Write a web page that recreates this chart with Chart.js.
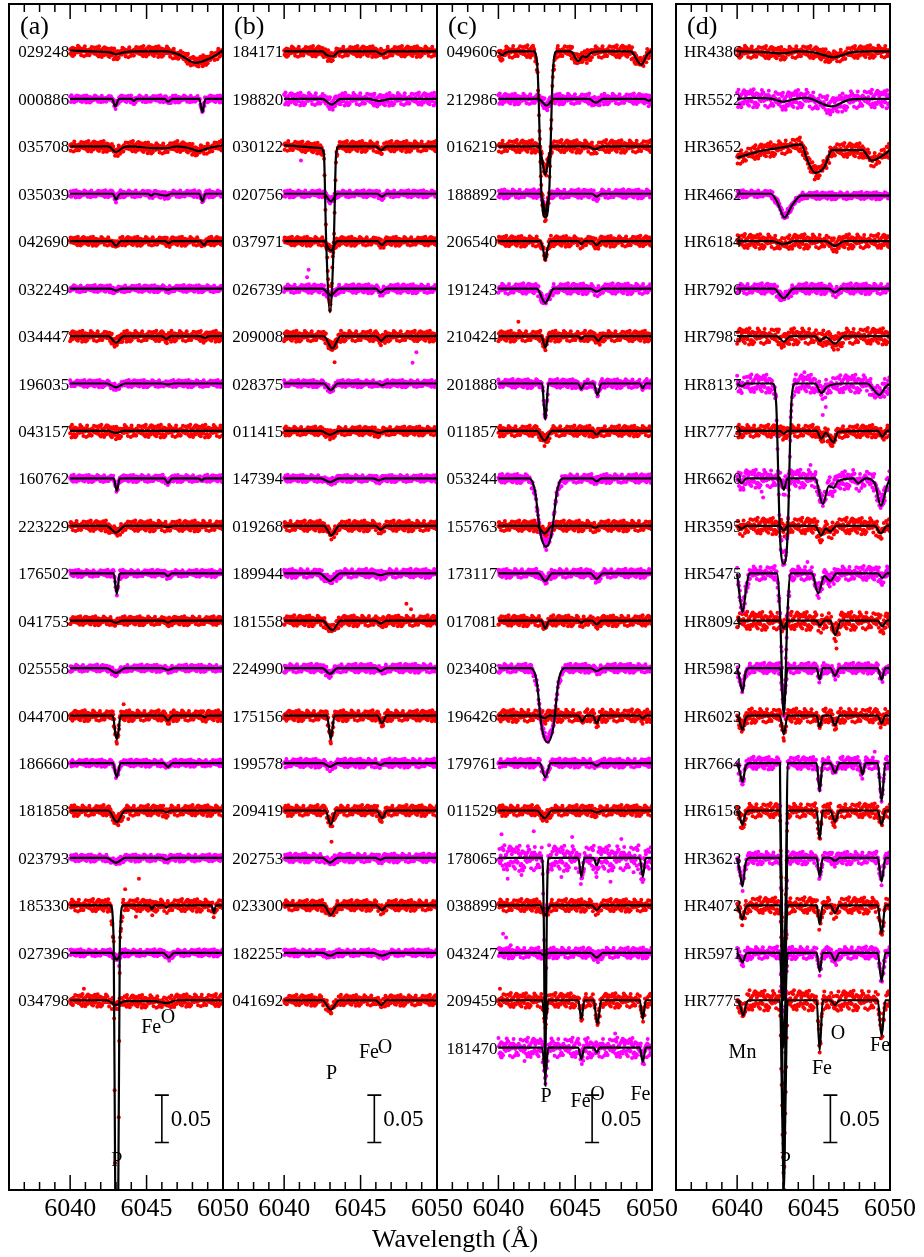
<!DOCTYPE html>
<html>
<head>
<meta charset="utf-8">
<script src="https://cdn.jsdelivr.net/npm/chart.js@4.4.0/dist/chart.umd.min.js"></script>
<style>
  body { margin: 0; background: #fff; width: 924px; height: 1257px; position: relative; overflow: hidden; }
  canvas { position: absolute; left: 0; top: 0; }
  #xtitle { position: absolute; left: 372px; top: 1226px; font: 26px "Liberation Serif", serif; line-height: 26px; color: #000; white-space: nowrap; }
</style>
</head>
<body>
<canvas id="panelA" width="924" height="1257"></canvas>
<canvas id="panelB" width="924" height="1257"></canvas>
<canvas id="panelC" width="924" height="1257"></canvas>
<canvas id="panelD" width="924" height="1257"></canvas>
<div id="xtitle">Wavelength (Å)</div>
<script>
// spectra are stacked 0.05 apart, top one at 0
const STEP = 0.05;
const RED = '#ff0000';
const MAGENTA = '#ff00ff';

// star names, top to bottom
const namesA = ['029248','000886','035708','035039','042690','032249','034447','196035','043157','160762','223229',
  '176502','041753','025558','044700','186660','181858','023793','185330','027396','034798'];
const namesB = ['184171','198820','030122','020756','037971','026739','209008','028375','011415','147394','019268',
  '189944','181558','224990','175156','199578','209419','202753','023300','182255','041692'];
const namesC = ['049606','212986','016219','188892','206540','191243','210424','201888','011857','053244','155763',
  '173117','017081','023408','196426','179761','011529','178065','038899','043247','209459','181470'];
const namesD = ['HR4386','HR5522','HR3652','HR4662','HR6184','HR7926','HR7985','HR8137','HR7773','HR6620','HR3595',
  'HR5475','HR8094','HR5982','HR6023','HR7664','HR6158','HR3623','HR4072','HR5971','HR7775'];

// model spectra: wavelength, flux offset in units of 0.001
const knotsA = [
  [6040,1, 6041.5,0, 6042.6,-1, 6043.0,-3, 6043.5,-1, 6044.3,0, 6046.3,0, 6047.2,-4, 6048.2,-12, 6049.2,-7, 6050,1],
  [6040,0, 6042.75,0, 6042.95,-8, 6043.2,0, 6044,0, 6044.15,-2, 6044.35,0, 6046.2,0, 6046.4,-3, 6046.7,0, 6048.45,0, 6048.65,-14, 6048.85,0, 6050,0],
  [6040,0, 6042.5,0, 6043.0,-6, 6043.5,-1, 6044,0, 6045.5,-2, 6046.3,-2, 6047,0, 6047.8,-2, 6048.4,-5, 6049,-2, 6050,1],
  [6040,0, 6042.8,0, 6043.0,-6, 6043.25,0, 6045.1,0, 6045.3,-2, 6045.5,0, 6046.3,-2, 6046.6,0, 6048.45,0, 6048.65,-8, 6048.85,0, 6050,0],
  [6040,0, 6042.7,0, 6043.0,-5, 6043.3,0, 6046.2,0, 6046.45,-2, 6046.7,0, 6048.5,0, 6048.75,-4, 6049,0, 6050,0],
  [6040,0, 6042.6,0, 6043.0,-2, 6043.4,0, 6046.1,0, 6046.4,-1, 6046.7,0, 6050,0],
  [6040,0, 6042.5,0, 6043.0,-7, 6043.5,0, 6046.0,0, 6046.3,-3, 6046.6,0, 6048.5,0, 6048.8,-2, 6049.1,0, 6050,0],
  [6040,0, 6042.4,0, 6043.0,-4, 6043.6,0, 6046,0, 6046.4,-1, 6046.8,0, 6050,0],
  [6040,0, 6042.5,0, 6043.0,-2, 6043.5,0, 6050,0],
  [6040,0, 6042.85,0, 6043.05,-13, 6043.25,0, 6046.15,0, 6046.4,-5, 6046.65,0, 6048.4,0, 6048.6,-2, 6048.8,0, 6050,0],
  [6040,0, 6042.4,0, 6043.0,-7, 6043.6,0, 6046,0, 6046.4,-1, 6046.8,0, 6050,0],
  [6040,0, 6042.85,0, 6043.05,-22, 6043.25,0, 6046.15,0, 6046.4,-3, 6046.65,0, 6050,0],
  [6040,0, 6042.6,0, 6043.0,-2, 6043.4,0, 6046.1,0, 6046.4,-2, 6046.7,0, 6050,0],
  [6040,0, 6042.4,0, 6043.0,-5, 6043.6,0, 6046,0, 6046.4,-2, 6046.8,0, 6050,0],
  [6040,0, 6042.8,0, 6042.95,-18, 6043.05,-25, 6043.15,-18, 6043.3,0, 6046.1,0, 6046.4,-5, 6046.7,0, 6048.6,0, 6048.8,-2, 6049,0, 6050,0],
  [6040,0, 6042.8,0, 6043.05,-15, 6043.3,0, 6046.1,0, 6046.4,-4, 6046.7,0, 6050,0],
  [6040,0, 6042.5,0, 6043.05,-12, 6043.6,0, 6046,0, 6046.3,-2, 6046.6,0, 6050,0],
  [6040,0, 6042.4,0, 6043.0,-5, 6043.6,0, 6046,0, 6046.3,-2, 6046.6,0, 6050,0],
  [6040,0, 6042.65,0, 6042.85,-40, 6042.95,-300, 6043.05,-330, 6043.15,-300, 6043.25,-40, 6043.45,0, 6045.2,0, 6045.35,-4, 6045.5,0, 6046.1,0, 6046.3,-2, 6046.5,0, 6049.25,0, 6049.4,-8, 6049.55,0, 6050,0],
  [6040,0, 6042.7,0, 6043.05,-7, 6043.4,0, 6046.1,0, 6046.45,-5, 6046.8,0, 6050,0],
  [6040,0, 6042.4,0, 6043.0,-5, 6043.6,-1, 6045.5,-1, 6046.3,-3, 6047,0, 6050,0]
];
const knotsB = [
  [6040,0, 6042.5,0, 6042.8,-4, 6043.2,-5, 6043.6,0, 6046,0, 6046.4,-3, 6046.8,0, 6050,0],
  [6040,0, 6042.5,0, 6043.1,-6, 6043.7,0, 6045.5,0, 6046.2,-2, 6047,0, 6050,0],
  [6040,1, 6042.4,-2, 6042.6,-8, 6042.75,-100, 6043.0,-175, 6043.25,-100, 6043.4,-8, 6043.6,0, 6046.0,0, 6046.35,-4, 6046.7,0, 6050,0],
  [6040,0, 6042.6,0, 6043.05,-8, 6043.5,0, 6046.1,0, 6046.4,-3, 6046.7,0, 6050,0],
  [6040,0, 6042.6,0, 6043.05,-10, 6043.5,0, 6046.1,0, 6046.4,-4, 6046.7,0, 6050,0],
  [6040,0, 6042.5,0, 6043.05,-7, 6043.6,0, 6046.0,0, 6046.3,-4, 6046.7,0, 6050,0],
  [6040,0, 6042.6,0, 6043.15,-13, 6043.7,0, 6046.0,0, 6046.35,-5, 6046.7,0, 6050,0],
  [6040,0, 6042.6,0, 6043.05,-7, 6043.5,0, 6046.1,0, 6046.4,-2, 6046.7,0, 6050,0],
  [6040,0, 6042.4,0, 6043.0,-4, 6043.6,0, 6045.7,0, 6046.2,-2, 6046.7,0, 6050,0],
  [6040,0, 6042.4,0, 6043.0,-4, 6043.6,0, 6045.8,0, 6046.2,-2, 6046.6,0, 6050,0],
  [6040,0, 6042.6,0, 6043.1,-10, 6043.6,0, 6046.0,0, 6046.3,-4, 6046.7,0, 6050,0],
  [6040,0, 6042.3,0, 6043.0,-8, 6043.7,0, 6045.8,0, 6046.3,-2, 6046.8,0, 6050,0],
  [6040,0, 6042.5,0, 6043.15,-10, 6043.7,0, 6046.0,0, 6046.3,-3, 6046.7,0, 6050,0],
  [6040,0, 6042.5,0, 6043.0,-6, 6043.5,0, 6046,0, 6046.3,-3, 6046.7,0, 6050,0],
  [6040,0, 6042.8,0, 6042.95,-15, 6043.05,-25, 6043.15,-15, 6043.3,0, 6046.1,0, 6046.4,-8, 6046.7,0, 6050,0],
  [6040,0, 6042.5,0, 6043.0,-4, 6043.5,0, 6046,0, 6046.3,-2, 6046.6,0, 6050,0],
  [6040,0, 6042.7,0, 6043.05,-15, 6043.4,0, 6046.05,0, 6046.4,-8, 6046.75,0, 6050,0],
  [6040,0, 6042.5,0, 6043.0,-5, 6043.5,0, 6046,0, 6046.3,-2, 6046.6,0, 6050,0],
  [6040,0, 6042.6,0, 6043.05,-10, 6043.5,0, 6046.05,0, 6046.4,-5, 6046.75,0, 6050,0],
  [6040,0, 6042.5,0, 6043.0,-3, 6043.5,0, 6045.8,0, 6046.4,-3, 6047,0, 6050,0],
  [6040,0, 6042.5,0, 6043.05,-10, 6043.6,0, 6046.0,0, 6046.35,-5, 6046.7,0, 6050,0]
];
const knotsC = [
  [6040,-1, 6040.25,-4, 6040.5,-1, 6041,0, 6042.3,0, 6042.55,-20, 6042.8,-150, 6043.05,-175, 6043.3,-150, 6043.55,-20, 6043.8,0, 6044.7,0, 6045.2,-10, 6045.5,-5, 6045.7,-6, 6046.1,-1, 6047,0, 6048.6,0, 6049.3,-14, 6049.7,-3, 6050,1],
  [6040,0, 6042.6,0, 6043.15,-7, 6043.6,0, 6045.9,0, 6046.35,-4, 6046.8,0, 6049.5,0, 6049.8,-2, 6050,0],
  [6040,0, 6042.6,0, 6042.8,-10, 6043.05,-30, 6043.3,-10, 6043.5,0, 6045.8,0, 6046.3,-3, 6046.8,0, 6050,0],
  [6040,0, 6042.7,0, 6042.9,-8, 6043.05,-22, 6043.2,-8, 6043.4,0, 6046.1,0, 6046.4,-3, 6046.7,0, 6050,0],
  [6040,0, 6042.7,0, 6042.9,-8, 6043.05,-20, 6043.2,-8, 6043.4,0, 6045.2,0, 6045.4,-3, 6045.6,0, 6046.1,0, 6046.4,-4, 6046.7,0, 6050,0],
  [6040,0, 6042.5,0, 6043.05,-15, 6043.6,0, 6046,0, 6046.4,-3, 6046.8,0, 6050,0],
  [6040,0, 6042.8,0, 6043.05,-12, 6043.3,0, 6045.2,0, 6045.4,-3, 6045.6,0, 6046.2,0, 6046.5,-5, 6046.8,0, 6050,0],
  [6040,0, 6042.85,0, 6042.95,-20, 6043.05,-38, 6043.15,-20, 6043.25,0, 6045.2,0, 6045.4,-6, 6045.6,0, 6046.2,0, 6046.45,-12, 6046.7,0, 6049.2,0, 6049.4,-5, 6049.6,0, 6050,0],
  [6040,0, 6042.5,0, 6043.0,-10, 6043.5,0, 6046.1,0, 6046.4,-4, 6046.7,0, 6050,0],
  [6040,0, 6042.0,0, 6042.4,-15, 6042.7,-55, 6043.1,-72, 6043.5,-55, 6043.8,-15, 6044.2,0, 6046.1,0, 6046.4,-3, 6046.7,0, 6050,0],
  [6040,0, 6042.5,0, 6043.0,-8, 6043.5,0, 6046.0,0, 6046.3,-2, 6046.6,0, 6050,0],
  [6040,0, 6042.6,0, 6043.05,-8, 6043.5,0, 6046.0,0, 6046.4,-6, 6046.8,0, 6050,0],
  [6040,0, 6042.8,0, 6043.05,-8, 6043.3,0, 6045.2,0, 6045.4,-2, 6045.6,0, 6046.1,0, 6046.4,-4, 6046.7,0, 6050,0],
  [6040,0, 6042.1,0, 6042.5,-15, 6042.8,-60, 6043.2,-78, 6043.6,-60, 6043.9,-15, 6044.3,0, 6046.0,0, 6046.4,-3, 6046.8,0, 6050,0],
  [6040,0, 6042.7,0, 6043.0,-3, 6043.3,0, 6045.2,0, 6045.45,-6, 6045.7,0, 6046.15,0, 6046.4,-8, 6046.65,0, 6049.2,0, 6049.4,-3, 6049.6,0, 6050,0],
  [6040,0, 6042.7,0, 6043.05,-15, 6043.4,0, 6046.1,0, 6046.4,-3, 6046.7,0, 6050,0],
  [6040,0, 6042.5,0, 6043.0,-8, 6043.5,0, 6046.0,0, 6046.4,-2, 6046.8,0, 6050,0],
  [6040,0, 6042.85,0, 6042.95,-60, 6043.05,-240, 6043.15,-60, 6043.25,0, 6045.2,0, 6045.4,-20, 6045.6,0, 6046.2,0, 6046.4,-8, 6046.6,0, 6049.2,0, 6049.4,-20, 6049.6,0, 6050,0],
  [6040,0, 6042.7,0, 6043.05,-10, 6043.4,0, 6046.1,0, 6046.4,-5, 6046.7,0, 6050,0],
  [6040,0, 6042.7,0, 6043.0,-3, 6043.3,0, 6046.0,0, 6046.4,-5, 6046.8,0, 6050,0],
  [6040,0, 6042.85,0, 6043.05,-25, 6043.25,0, 6045.2,0, 6045.4,-20, 6045.6,0, 6046.2,0, 6046.45,-25, 6046.7,0, 6049.2,0, 6049.4,-20, 6049.6,0, 6050,0],
  [6040,0, 6042.85,0, 6043.05,-30, 6043.25,0, 6045.2,0, 6045.4,-12, 6045.6,0, 6046.2,0, 6046.4,-5, 6046.6,0, 6049.2,0, 6049.4,-15, 6049.6,0, 6050,0]
];
const knotsD = [
  [6040,0, 6042,-1, 6043,-2, 6044,0, 6045,-1, 6046.3,-6, 6047.5,-1, 6048.5,0, 6050,0],
  [6040,0, 6041,1, 6042.3,0, 6043,-3, 6043.8,0, 6044.5,1, 6046.2,-8, 6047.3,-1, 6048.3,0, 6050,0],
  [6040,-12, 6041.5,-5, 6043,-1, 6044.2,2, 6044.6,-15, 6045.1,-28, 6045.7,-22, 6046.2,-4, 6048.2,-4, 6048.8,-15, 6049.5,-10, 6050,-4],
  [6040,0, 6042.2,0, 6042.6,-8, 6043.1,-25, 6043.6,-12, 6044.2,-2, 6050,-2],
  [6040,0, 6042.3,0, 6043,-3, 6043.8,0, 6045.8,0, 6046.4,-5, 6047,0, 6050,0],
  [6040,0, 6042.4,0, 6043.05,-10, 6043.7,0, 6046,0, 6046.4,-4, 6046.8,0, 6050,0],
  [6040,0, 6042.6,0, 6043.05,-6, 6043.5,0, 6045.1,0, 6045.4,-5, 6045.8,-1, 6046.4,-8, 6047,0, 6050,0],
  [6040,0, 6040.3,-3, 6040.6,0, 6042.3,0, 6042.55,-20, 6042.8,-160, 6043.05,-190, 6043.3,-160, 6043.55,-20, 6043.8,0, 6045.1,0, 6045.5,-10, 6045.9,-3, 6047,0, 6048.5,0, 6049.3,-12, 6049.7,-4, 6050,0],
  [6040,0, 6042.8,0, 6043.05,-3, 6043.3,0, 6045.2,0, 6045.5,-8, 6045.8,-2, 6046.3,-12, 6046.6,-1, 6049.2,0, 6049.5,-6, 6049.8,0, 6050,0],
  [6040,0, 6040.3,-5, 6040.6,0, 6042.8,0, 6043.05,-12, 6043.3,0, 6045.1,0, 6045.6,-27, 6046.0,-8, 6046.3,-10, 6046.6,-3, 6047.6,0, 6047.9,-5, 6048.4,0, 6049.0,-5, 6049.4,-29, 6049.8,-8, 6050,0],
  [6040,0, 6040.3,-3, 6040.6,0, 6042.8,0, 6043.05,-5, 6043.3,0, 6045.1,0, 6045.5,-10, 6045.8,-3, 6046.1,-6, 6046.5,0, 6049.0,0, 6049.4,-8, 6049.8,0, 6050,0],
  [6040,0, 6040.1,-15, 6040.35,-41, 6040.6,-15, 6040.8,0, 6042.6,0, 6042.8,-40, 6043.05,-150, 6043.3,-40, 6043.5,0, 6044.9,0, 6045.3,-21, 6045.7,-3, 6046.1,-8, 6046.5,0, 6049.2,0, 6049.5,-5, 6049.8,0, 6050,0],
  [6040,0, 6042.8,0, 6043.05,-8, 6043.3,0, 6045.2,0, 6045.4,-5, 6045.7,0, 6046.1,0, 6046.4,-15, 6046.8,0, 6049.2,0, 6049.5,-6, 6049.8,0, 6050,0],
  [6040,0, 6040.15,-10, 6040.35,-25, 6040.55,-5, 6040.8,0, 6042.8,0, 6043.05,-40, 6043.3,0, 6045.2,0, 6045.4,-12, 6045.6,0, 6046.1,0, 6046.4,-8, 6046.7,0, 6049.2,0, 6049.45,-12, 6049.7,0, 6050,0],
  [6040,0, 6040.15,-6, 6040.35,-15, 6040.55,-3, 6040.8,0, 6042.8,0, 6043.05,-20, 6043.3,0, 6045.2,0, 6045.4,-12, 6045.6,0, 6046.1,0, 6046.4,-10, 6046.7,0, 6049.2,0, 6049.45,-8, 6049.7,0, 6050,0],
  [6040,0, 6040.15,-8, 6040.35,-20, 6040.55,-4, 6040.8,0, 6042.8,0, 6042.95,-300, 6043.05,-430, 6043.15,-300, 6043.3,0, 6045.2,0, 6045.4,-30, 6045.6,0, 6046.1,0, 6046.4,-10, 6046.7,0, 6048.0,0, 6048.2,-12, 6048.4,0, 6049.2,0, 6049.45,-40, 6049.7,0, 6050,0],
  [6040,0, 6040.15,-6, 6040.35,-15, 6040.55,-3, 6040.8,0, 6042.8,0, 6042.95,-120, 6043.05,-200, 6043.15,-120, 6043.3,0, 6045.2,0, 6045.4,-30, 6045.6,0, 6046.1,0, 6046.4,-12, 6046.7,0, 6049.2,0, 6049.45,-15, 6049.7,0, 6050,0],
  [6040,0, 6040.15,-12, 6040.35,-30, 6040.55,-6, 6040.8,0, 6042.8,0, 6042.95,-90, 6043.05,-150, 6043.15,-90, 6043.3,0, 6045.2,0, 6045.4,-20, 6045.6,0, 6046.1,0, 6046.4,-3, 6046.7,0, 6049.2,0, 6049.45,-25, 6049.7,0, 6050,0],
  [6040,0, 6040.15,-6, 6040.35,-15, 6040.55,-3, 6040.8,0, 6042.8,0, 6042.95,-60, 6043.05,-100, 6043.15,-60, 6043.3,0, 6045.2,0, 6045.4,-20, 6045.6,0, 6046.1,0, 6046.4,-8, 6046.7,0, 6049.2,0, 6049.45,-30, 6049.7,0, 6050,0],
  [6040,0, 6040.15,-4, 6040.35,-10, 6040.55,-2, 6040.8,0, 6042.8,0, 6042.95,-60, 6043.05,-100, 6043.15,-60, 6043.3,0, 6045.2,0, 6045.4,-20, 6045.6,0, 6046.1,0, 6046.4,-8, 6046.7,0, 6049.2,0, 6049.45,-30, 6049.7,0, 6050,0],
  [6040,0, 6040.2,-6, 6040.4,-16, 6040.6,-3, 6040.8,0, 6042.8,0, 6042.95,-120, 6043.05,-200, 6043.15,-120, 6043.3,0, 6045.2,0, 6045.4,-53, 6045.6,0, 6046.1,0, 6046.4,-5, 6046.7,0, 6049.2,0, 6049.45,-38, 6049.7,0, 6050,0]
];

// scatter of the observed points around each model, in units of 0.001
const noiseA = [6,4,6,4,5,4,6,4,7,4,6,4,5,4,6,4,6,4,7,4,7];
const noiseB = [6,7,6,4,5,5,6,4,5,4,6,5,6,5,6,5,6,5,6,4,6];
const noiseC = [7,6,7,5,6,6,6,5,6,5,6,5,6,5,7,5,6,14,7,6,8,11];
const noiseD = [7,10,8,4,8,6,9,10,7,10,9,8,10,6,8,7,8,7,9,7,11];

// stray points well off the model: spectrum index, wavelength, flux offset (0.001)
const strayA = [[18,6043.6,17],[18,6044.5,28],[18,6044.3,-12],[19,6043.2,-10],[14,6043.5,12],[11,6043.3,-6],[16,6043.8,-9],[20,6040.9,12]];
const strayB = [[3,6041.1,35],[5,6041.6,20],[5,6041.5,12],[7,6048.65,33],[7,6048.4,22],[12,6048.0,18],[12,6048.3,12],[6,6043.3,-18],[16,6043.1,-20]];
const strayC = [[19,6040.3,20],[19,6040.5,16],[19,6040.8,8],[6,6041.3,15],[17,6040.2,25],[17,6040.6,-22],[17,6041.5,-18],
  [17,6042.3,28],[17,6044.1,-20],[17,6044.8,22],[17,6047.3,-25],[17,6048.0,20],[17,6048.8,-15],[21,6041.7,-14],[21,6047.6,15],[20,6040.1,12]];
const strayD = [[7,6045.6,-25],[7,6045.8,-20],[7,6044.4,12],[9,6041.7,-20],[9,6041.6,-14],[9,6044.8,14],[11,6044.6,12],[15,6049.0,12],[12,6046.5,-18]];

// fixed residual pattern shared by all spectra (scaled by the noise level above)
const RESID = [0.12,-0.45,0.78,-0.2,0.33,-0.9,0.05,0.61,-0.37,0.22,-0.68,0.41,-0.08,0.95,-0.52,0.17,-0.29,0.66,-0.74,0.03,
  0.48,-0.15,0.83,-0.61,0.27,-0.4,0.09,-0.86,0.55,-0.11,0.38,-0.57,0.71,-0.25,0.14,-0.98,0.46,-0.06,0.62,-0.33,
  0.24,-0.7,0.88,-0.19,0.01,-0.49,0.35,-0.81,0.58,-0.13,0.29,-0.64,0.76,-0.02,0.43,-0.36,0.19,-0.92,0.51,-0.27,
  0.68,-0.09,0.31,-0.55,0.07,-0.77,0.92,-0.42,0.16,-0.23,0.59,-0.66,0.37,-0.04,0.81,-0.5,0.21,-0.31,0.45,-0.85,
  0.1,-0.18,0.64,-0.59,0.26,-0.72,0.53,-0.07,0.4,-0.95,0.73,-0.34,0.18,-0.46,0.86,-0.12,0.3];

const X_TICKS = [6040, 6045, 6050];
const DOT_STEP = 0.03;

// flux of a model at wavelength w (straight between read points)
function fluxAt(k, w) {
  for (let j = 0; j < k.length - 2; j += 2) {
    if (w >= k[j] && w <= k[j + 2]) {
      const t = (w - k[j]) / (k[j + 2] - k[j]);
      return k[j + 1] + t * (k[j + 3] - k[j + 1]);
    }
  }
  return 0;
}

function buildDatasets(names, knots, noise, stray) {
  const sets = [];
  names.forEach((name, s) => {
    const base = -s * STEP;
    const k = knots[s];
    const linePts = [];
    for (let j = 0; j < k.length; j += 2) {
      linePts.push({ x: k[j], y: base + k[j + 1] / 1000 });
    }
    sets.push({
      type: 'line', data: linePts, borderColor: '#000', borderWidth: 2.2,
      pointRadius: 0, cubicInterpolationMode: 'monotone', order: 0
    });
    const dots = [];
    let i = 0;
    for (let w = 6040; w <= 6050.0001; w += DOT_STEP, i++) {
      const r = RESID[(i * 31 + s * 17) % RESID.length];
      dots.push({ x: w, y: base + (fluxAt(k, w) + noise[s] * r) / 1000 });
    }
    stray.filter(p => p[0] === s).forEach(p => {
      dots.push({ x: p[1], y: base + (fluxAt(k, p[1]) + p[2]) / 1000 });
    });
    sets.push({
      type: 'scatter', data: dots, backgroundColor: s % 2 ? MAGENTA : RED,
      borderWidth: 0, pointRadius: 2, order: 1
    });
  });
  return sets;
}

// frame, inward ticks, names, line ids and the 0.05 bar
function decorPlugin(cfg) {
  return {
    id: 'decor',
    afterDatasetsDraw(chart) {
      const ctx = chart.ctx;
      const a = chart.chartArea;
      const xs = chart.scales.x, ys = chart.scales.y;
      ctx.save();
      ctx.strokeStyle = '#000';
      ctx.fillStyle = '#000';
      ctx.lineWidth = 2;
      ctx.strokeRect(a.left, a.top, a.right - a.left, a.bottom - a.top);
      ctx.lineWidth = 1.5;
      for (let v = 6036; v <= 6050; v++) {
        const px = xs.getPixelForValue(v);
        const len = v % 5 === 0 ? 15 : 8;
        ctx.beginPath();
        ctx.moveTo(px, a.bottom); ctx.lineTo(px, a.bottom - len);
        ctx.moveTo(px, a.top); ctx.lineTo(px, a.top + len);
        ctx.stroke();
      }
      ctx.font = '26px "Liberation Serif"';
      ctx.textAlign = 'left';
      ctx.textBaseline = 'alphabetic';
      ctx.fillText(cfg.letter, a.left + 11, a.top + 30);

      ctx.font = '17px "Liberation Serif"';
      ctx.textAlign = 'right';
      const nx = xs.getPixelForValue(cfg.nameAt) - 1;
      cfg.names.forEach((n, s) => {
        ctx.fillText(n, nx, ys.getPixelForValue(-s * STEP) + 6);
      });

      ctx.font = '20px "Liberation Serif"';
      ctx.textAlign = 'center';
      ctx.textBaseline = 'middle';
      cfg.ids.forEach(([t, w, y]) => {
        ctx.fillText(t, xs.getPixelForValue(w), ys.getPixelForValue(y));
      });

      const bx = xs.getPixelForValue(cfg.bar[0]);
      const b1 = ys.getPixelForValue(cfg.bar[1]);
      const b2 = ys.getPixelForValue(cfg.bar[1] - 0.05);
      ctx.lineWidth = 1.6;
      ctx.beginPath();
      ctx.moveTo(bx, b1); ctx.lineTo(bx, b2);
      ctx.moveTo(bx - 7, b1); ctx.lineTo(bx + 7, b1);
      ctx.moveTo(bx - 7, b2); ctx.lineTo(bx + 7, b2);
      ctx.stroke();
      ctx.font = '23px "Liberation Serif"';
      ctx.textAlign = 'left';
      ctx.fillText('0.05', bx + 9, (b1 + b2) / 2 + 1);
      ctx.restore();
    }
  };
}

function makePanel(id, left, right, cfg, names, knots, noise, stray) {
  new Chart(document.getElementById(id), {
    type: 'scatter',
    data: { datasets: buildDatasets(names, knots, noise, stray) },
    options: {
      responsive: false,
      animation: false,
      events: [],
      layout: { padding: { left: left, right: 924 - right, top: 1, bottom: 0 } },
      plugins: { legend: { display: false }, tooltip: { enabled: false } },
      scales: {
        x: {
          type: 'linear', min: 6036, max: 6050,
          afterBuildTicks: (s) => { s.ticks = X_TICKS.map(v => ({ value: v })); },
          afterFit: (s) => { s.height = 67; },
          grid: { display: false, drawTicks: false },
          border: { display: false },
          ticks: { color: '#000', padding: 4, maxRotation: 0, autoSkip: false,
                   callback: (v) => String(v),
                   font: { family: 'Liberation Serif', size: 26 } }
        },
        y: { display: false, min: -1.2, max: 0.05 }
      }
    },
    plugins: [decorPlugin(Object.assign({ names: names }, cfg))]
  });
}

makePanel('panelA', 9, 223, { letter: '(a)', nameAt: 6040, bar: [6046.0, -1.1],
  ids: [['Fe', 6045.3, -1.029], ['O', 6046.4, -1.018], ['P', 6043.05, -1.169]] }, namesA, knotsA, noiseA, strayA);
makePanel('panelB', 223, 437, { letter: '(b)', nameAt: 6040, bar: [6045.9, -1.1],
  ids: [['P', 6043.1, -1.077], ['Fe', 6045.55, -1.055], ['O', 6046.6, -1.05]] }, namesB, knotsB, noiseB, strayB);
makePanel('panelC', 437, 652, { letter: '(c)', nameAt: 6040, bar: [6046.1, -1.1],
  ids: [['P', 6043.1, -1.102], ['Fe', 6045.35, -1.107], ['O', 6046.45, -1.1], ['Fe', 6049.25, -1.1]] }, namesC, knotsC, noiseC, strayC);
makePanel('panelD', 676, 890, { letter: '(d)', nameAt: 6040.35, bar: [6046.1, -1.1],
  ids: [['Mn', 6040.35, -1.055], ['Fe', 6045.55, -1.072], ['O', 6046.6, -1.035], ['Fe', 6049.35, -1.048], ['P', 6043.15, -1.169]] }, namesD, knotsD, noiseD, strayD);
</script>
</body>
</html>
